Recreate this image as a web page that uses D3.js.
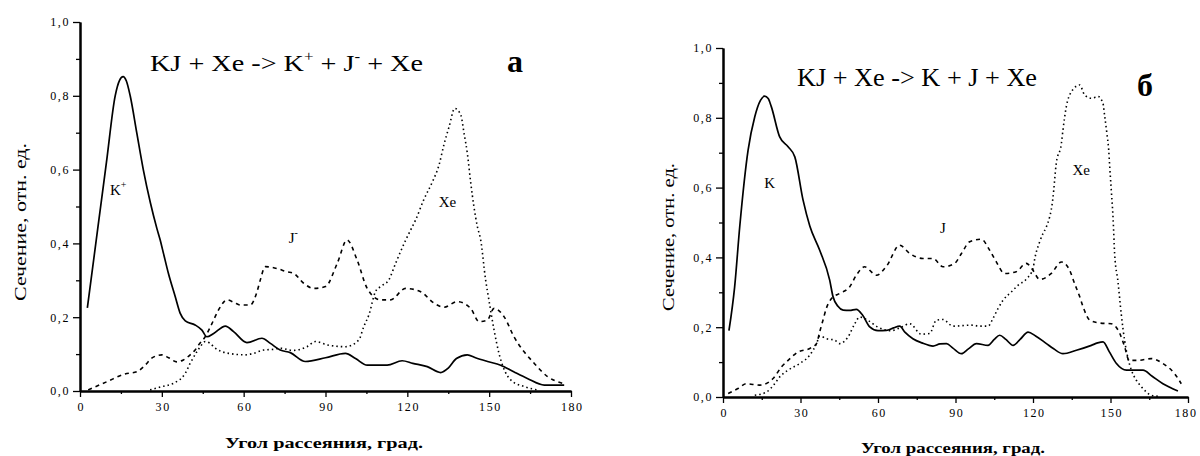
<!DOCTYPE html>
<html><head><meta charset="utf-8">
<script src="https://cdn.jsdelivr.net/npm/d3@7"></script>
<style>body{margin:0;background:#fff}svg{display:block}
text{font-family:"Liberation Serif","Tinos","Times New Roman","DejaVu Serif","Noto Serif",serif !important;fill:#000}</style>
</head><body>
<svg id="chart" width="1200" height="456"></svg>
<script>
// ---- data ----
const xTicks = [0, 30, 60, 90, 120, 150, 180];
const xMinor = [15, 45, 75, 105, 135, 165];
const yTicks = [0, 0.2, 0.4, 0.6, 0.8, 1.0];
const yMinor = [0.1, 0.3, 0.5, 0.7, 0.9];

// panel a: KJ + Xe -> K+ + J- + Xe
const leftK = [[2.7,0.225],[6.5,0.44],[9.7,0.62],[12.9,0.8],[14.5,0.842],[15.8,0.852],[17,0.84],[18.4,0.8],[20.8,0.7],[23.2,0.6],[25.8,0.51],[28.2,0.44],[29.4,0.409],[30.6,0.373],[32.4,0.319],[34.9,0.256],[36.7,0.211],[38.6,0.19],[42.2,0.179],[44.7,0.165],[46.5,0.147],[49,0.156],[53.3,0.176],[56.3,0.161],[61.2,0.131],[66.7,0.143],[69.8,0.129],[73.4,0.111],[77.1,0.104],[82.6,0.08],[90,0.09],[97.3,0.102],[101,0.088],[105.3,0.07],[112.6,0.07],[118.1,0.082],[122,0.075],[127.3,0.066],[132.2,0.05],[135,0.062],[138,0.088],[142,0.098],[145,0.09],[149.4,0.08],[154.2,0.07],[159,0.052],[164,0.034],[170.2,0.016],[177.5,0.016]];
const leftJ = [[3,0.003],[9.8,0.025],[16.5,0.046],[20.8,0.052],[23.9,0.07],[26.3,0.089],[30,0.098],[32.5,0.09],[35.5,0.079],[37.9,0.084],[40.4,0.098],[42.2,0.111],[43.5,0.125],[45.9,0.147],[48.4,0.183],[50.8,0.22],[53.9,0.247],[56.5,0.24],[58.8,0.233],[62.4,0.233],[64.9,0.269],[66.1,0.301],[67.9,0.337],[72.2,0.332],[75.9,0.323],[78.3,0.319],[82,0.292],[85.7,0.278],[90,0.283],[94.3,0.346],[97.9,0.409],[101.6,0.355],[105.3,0.278],[110.2,0.247],[113.8,0.247],[119.4,0.278],[124.9,0.269],[129.8,0.238],[133.4,0.227],[138.3,0.242],[143.2,0.224],[146.3,0.188],[149.3,0.192],[151.8,0.224],[155.5,0.201],[159.1,0.147],[166.5,0.075],[171.4,0.039],[176.9,0.021]];
const leftXe = [[25.7,0.003],[30,0.012],[34.3,0.021],[38.6,0.048],[40.4,0.075],[42.9,0.107],[44.1,0.12],[45.9,0.134],[47.5,0.13],[49.6,0.116],[54.5,0.102],[60.6,0.098],[63.6,0.102],[67.3,0.111],[71,0.113],[73.4,0.116],[78,0.11],[83.2,0.12],[86.3,0.134],[90.6,0.125],[97.3,0.12],[102.2,0.138],[104,0.174],[105.9,0.206],[108.3,0.269],[110.2,0.283],[113.2,0.301],[115.7,0.346],[119.4,0.409],[121.8,0.445],[123,0.463],[126,0.518],[129.2,0.567],[131.6,0.612],[133.4,0.667],[135.3,0.716],[137.4,0.766],[139.6,0.748],[140.8,0.698],[142,0.644],[143.2,0.567],[144.4,0.5],[145.7,0.445],[146.9,0.409],[148.7,0.301],[149.9,0.247],[151.8,0.165],[153.6,0.102],[157.9,0.03],[162.8,0.012],[167.7,0.003]];

// panel б: KJ + Xe -> K + J + Xe
const rightK = [[2.3,0.19],[4.5,0.315],[6.5,0.49],[9.7,0.707],[12.3,0.803],[14.5,0.85],[16.1,0.862],[17.5,0.855],[18.7,0.832],[21.9,0.746],[25.2,0.717],[27.8,0.688],[31,0.564],[33.6,0.49],[37.4,0.421],[41.3,0.335],[42.6,0.287],[44.5,0.26],[46.5,0.249],[49,0.248],[51.6,0.251],[54,0.235],[56.8,0.201],[60,0.19],[63.3,0.191],[66,0.198],[68.4,0.203],[70.5,0.185],[73.5,0.167],[77,0.155],[81.3,0.146],[84,0.152],[86.5,0.153],[89,0.14],[92.3,0.124],[95,0.138],[98.1,0.153],[102.6,0.148],[105,0.165],[107.1,0.177],[109.5,0.165],[112.3,0.148],[115,0.165],[118.1,0.186],[121,0.175],[125.2,0.153],[128,0.138],[131.6,0.124],[136.8,0.134],[142.6,0.148],[145,0.155],[147.1,0.158],[149.5,0.13],[152.3,0.096],[156.2,0.077],[162.6,0.077],[166,0.06],[170.3,0.038],[176.1,0.017]];
const rightJ = [[2,0.01],[6,0.025],[9,0.038],[14.2,0.034],[19.4,0.053],[22.6,0.086],[25.2,0.105],[29,0.129],[33.6,0.139],[36.2,0.153],[37.4,0.186],[38.7,0.22],[40,0.254],[42,0.282],[45.2,0.297],[49,0.315],[51.6,0.349],[54.8,0.373],[59.4,0.349],[63.3,0.375],[68.4,0.435],[72.3,0.411],[77.4,0.397],[81.3,0.397],[85.2,0.373],[89.7,0.383],[92.3,0.411],[95.5,0.445],[100,0.452],[103.2,0.421],[105.8,0.387],[109,0.354],[113.5,0.359],[117.4,0.383],[119.8,0.365],[122.6,0.337],[127.1,0.354],[131,0.387],[134.2,0.363],[136.1,0.325],[138.1,0.287],[139.4,0.258],[142,0.22],[145.8,0.212],[150.3,0.21],[153.6,0.182],[155.5,0.143],[157.2,0.105],[160.7,0.105],[165.8,0.11],[170.3,0.096],[174.8,0.067],[177.4,0.038]];
const rightXe = [[12.3,0.005],[16.8,0.014],[20,0.038],[21.9,0.057],[25.2,0.077],[29.7,0.096],[33.6,0.12],[36.2,0.153],[37.5,0.175],[40,0.167],[43.2,0.163],[45.2,0.153],[48.4,0.172],[51,0.21],[52.9,0.229],[56,0.22],[60,0.2],[65,0.19],[69,0.2],[72.3,0.21],[76.8,0.18],[80,0.182],[82.6,0.22],[85.2,0.222],[89,0.203],[96.2,0.206],[99.4,0.203],[102.6,0.203],[104.5,0.225],[106.5,0.254],[108.4,0.277],[111.6,0.301],[114.2,0.32],[117.7,0.34],[120,0.368],[120.7,0.397],[122.6,0.445],[123.9,0.469],[125.2,0.488],[127.7,0.569],[129,0.669],[131,0.727],[131.6,0.765],[132.9,0.832],[134.9,0.875],[138.1,0.894],[140,0.865],[142.6,0.856],[145.2,0.861],[147.1,0.841],[147.7,0.808],[148.6,0.755],[149.3,0.708],[149.7,0.66],[150.3,0.593],[151,0.512],[151.6,0.411],[152.9,0.33],[154.2,0.235],[155.5,0.16],[156.8,0.11],[158.1,0.077],[160,0.048],[162,0.029],[165.8,0.005],[168.4,0.002]];

const xTitle = "Угол рассеяния, град.";
const yTitle = "Сечение, отн. ед.";

// ---- drawing ----
const svg = d3.select("#chart");
const fmt = v => d3.format(".1f")(v).replace(".", ",");

function drawPanel(p) {
  const x = d3.scaleLinear().domain([0, 180]).range(p.xr);
  const y = d3.scaleLinear().domain([0, 1]).range(p.yr);
  const g = svg.append("g");

  const xa = g.append("g").attr("transform", `translate(0,${p.yr[0]})`)
    .call(d3.axisBottom(x).tickValues(xTicks).tickSize(6).tickSizeOuter(0).tickPadding(5).tickFormat(d3.format("d")));
  xa.append("g").call(d3.axisBottom(x).tickValues(xMinor).tickSize(3).tickSizeOuter(0).tickFormat(""));
  const ya = g.append("g").attr("transform", `translate(${p.xr[0]},0)`)
    .call(d3.axisLeft(y).tickValues(yTicks).tickSize(7).tickSizeOuter(0).tickPadding(3).tickFormat(fmt));
  ya.append("g").call(d3.axisLeft(y).tickValues(yMinor).tickSize(4).tickSizeOuter(0).tickFormat(""));
  g.selectAll(".domain").attr("stroke", "#000").attr("stroke-width", 2);
  g.selectAll(".tick line").attr("stroke", "#000").attr("stroke-width", 1.3);
  g.selectAll(".tick text").style("font-size", "12px").style("letter-spacing", "1.6px").attr("fill", "#000");
  xa.selectAll(".tick text").attr("dx", 0.8);
  // keep the last x label inside the page
  xa.selectAll(".tick text").filter(d => d === 180 && p.xr[1] > 1180).attr("text-anchor", "end").attr("dx", 9);

  const line = d3.line().x(d => x(d[0])).y(d => y(d[1])).curve(d3.curveMonotoneX);
  p.series.forEach(s => {
    g.append("path").datum(s.data).attr("d", line).attr("fill", "none")
      .attr("stroke", "#000").attr("stroke-width", s.w).attr("stroke-dasharray", s.dash);
  });
  p.labels.forEach(l => {
    const t = g.append("text").attr("x", x(l.a)).attr("y", y(l.v)).style("font-size", "15px").text(l.t);
    if (l.sup) t.append("tspan").attr("dy", -7).style("font-size", "10px").text(l.sup);
  });

  const tt = g.append("text").attr("x", p.title.x).attr("y", p.title.y).style("font-size", p.title.fs + "px")
    .attr("textLength", p.title.len).attr("lengthAdjust", "spacingAndGlyphs");
  p.title.parts.forEach(pt => {
    if (pt.sup) tt.append("tspan").attr("dy", -10).style("font-size", (p.title.fs * 0.6) + "px").text(pt.sup);
    else tt.append("tspan").attr("dy", pt.down ? 10 : 0).text(pt.t);
  });
  g.append("text").attr("x", p.letter.x).attr("y", p.letter.y).style("font-size", p.letter.fs + "px")
    .style("font-weight", "bold").text(p.letter.t);

  g.append("text").attr("x", p.xt.x).attr("y", p.xt.y).attr("text-anchor", "middle")
    .attr("textLength", p.xt.len).attr("lengthAdjust", "spacingAndGlyphs")
    .style("font-size", "14px").style("font-weight", "bold").text(xTitle);
  g.append("text").attr("transform", `translate(${p.yt.x},${p.yt.y}) rotate(-90)`).attr("text-anchor", "middle")
    .attr("textLength", p.yt.len).attr("lengthAdjust", "spacingAndGlyphs")
    .style("font-size", "17px").text(yTitle);
}

drawPanel({
  xr: [80, 571], yr: [391, 22],
  series: [
    {data: leftK, w: 1.7, dash: null},
    {data: leftJ, w: 1.6, dash: "4,4"},
    {data: leftXe, w: 1.6, dash: "1.5,3"}
  ],
  labels: [{a: 11, v: 0.53, t: "K", sup: "+"}, {a: 76.5, v: 0.4, t: "J", sup: "-"}, {a: 131.5, v: 0.5, t: "Xe"}],
  title: {x: 150, y: 71, fs: 24, len: 273, parts: [{t: "KJ + Xe -> K"}, {sup: "+"}, {t: " + J", down: true}, {sup: "-"}, {t: " + Xe", down: true}]},
  letter: {x: 507, y: 72, fs: 32, t: "a"},
  xt: {x: 324, y: 448, len: 198},
  yt: {x: 26, y: 222, len: 158}
});
drawPanel({
  xr: [723, 1188], yr: [397, 48],
  series: [
    {data: rightK, w: 1.7, dash: null},
    {data: rightJ, w: 1.6, dash: "4,4"},
    {data: rightXe, w: 1.6, dash: "1.5,3"}
  ],
  labels: [{a: 16, v: 0.6, t: "K"}, {a: 84, v: 0.47, t: "J"}, {a: 135.3, v: 0.635, t: "Xe"}],
  title: {x: 797, y: 86, fs: 26, len: 240, parts: [{t: "KJ + Xe -> K + J + Xe"}]},
  letter: {x: 1137, y: 96, fs: 32, t: "б"},
  xt: {x: 953, y: 453, len: 184},
  yt: {x: 674, y: 237, len: 148}
});
</script>
</body></html>
